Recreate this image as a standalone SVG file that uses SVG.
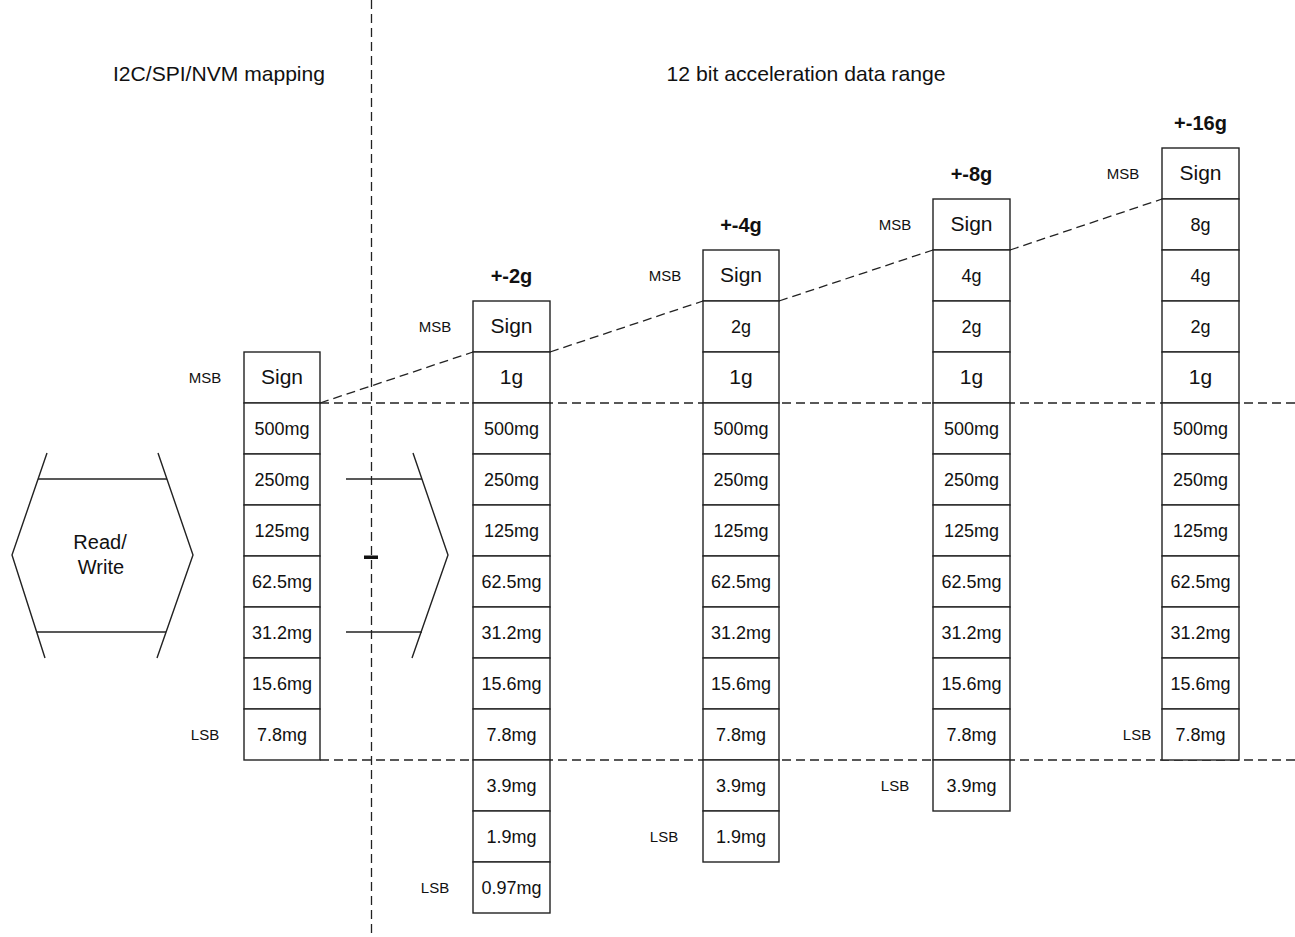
<svg xmlns="http://www.w3.org/2000/svg" width="1295" height="937" viewBox="0 0 1295 937">
<style>
text{font-family:"Liberation Sans",Arial,sans-serif;fill:#111;}
.c{fill:#fff;stroke:#222;stroke-width:1.4;}
.s{font-size:18px;text-anchor:middle;}
.b{font-size:21px;text-anchor:middle;}
.l{font-size:15px;text-anchor:middle;}
.t{font-size:20px;font-weight:bold;text-anchor:middle;}
.h{font-size:21px;text-anchor:middle;}
.d{fill:none;stroke:#222;stroke-width:1.3;stroke-dasharray:9 5;}
.ln{fill:none;stroke:#222;stroke-width:1.4;}
</style>
<g id="headers">
<text class="h" x="219" y="81" textLength="212" lengthAdjust="spacingAndGlyphs">I2C/SPI/NVM mapping</text>
<text class="h" x="806" y="81" textLength="279" lengthAdjust="spacingAndGlyphs">12 bit acceleration data range</text>
</g>
<g id="connectors">
<line class="d" x1="371.5" y1="0" x2="371.5" y2="937"/>
<line class="d" x1="320" y1="403" x2="1295" y2="403"/>
<line class="d" x1="320" y1="760" x2="1295" y2="760"/>
<line class="d" x1="320" y1="403" x2="473" y2="352"/>
<line class="d" x1="550" y1="352" x2="703" y2="301"/>
<line class="d" x1="779" y1="301" x2="933" y2="250"/>
<line class="d" x1="1010" y1="250" x2="1162" y2="199"/>
<rect x="364" y="555.5" width="14" height="3.5" fill="#111"/>
</g>
<g id="read-write">
<polyline class="ln" points="47,453 12,555 45,658"/>
<polyline class="ln" points="158,453 193,555 157,658"/>
<line class="ln" x1="38" y1="479" x2="167" y2="479"/>
<line class="ln" x1="37" y1="632" x2="166" y2="632"/>
<text class="h" x="100" y="549" style="font-size:20px">Read/</text>
<text class="h" x="101" y="574" style="font-size:20px">Write</text>
</g>
<g id="bus-right">
<polyline class="ln" points="413,453 448,555 412,658"/>
<line class="ln" x1="346" y1="479" x2="422" y2="479"/>
<line class="ln" x1="346" y1="632" x2="422" y2="632"/>
</g>
<g id="col-mapping">
<rect class="c" x="244" y="352" width="76" height="51"/>
<rect class="c" x="244" y="403" width="76" height="51"/>
<rect class="c" x="244" y="454" width="76" height="51"/>
<rect class="c" x="244" y="505" width="76" height="51"/>
<rect class="c" x="244" y="556" width="76" height="51"/>
<rect class="c" x="244" y="607" width="76" height="51"/>
<rect class="c" x="244" y="658" width="76" height="51"/>
<rect class="c" x="244" y="709" width="76" height="51"/>
<text class="b" x="282" y="384">Sign</text>
<text class="s" x="282" y="435">500mg</text>
<text class="s" x="282" y="486">250mg</text>
<text class="s" x="282" y="537">125mg</text>
<text class="s" x="282" y="588">62.5mg</text>
<text class="s" x="282" y="639">31.2mg</text>
<text class="s" x="282" y="690">15.6mg</text>
<text class="s" x="282" y="741">7.8mg</text>
<text class="l" x="205" y="383">MSB</text>
<text class="l" x="205" y="740">LSB</text>
</g>
<g id="col-2g">
<rect class="c" x="473" y="301" width="77" height="51"/>
<rect class="c" x="473" y="352" width="77" height="51"/>
<rect class="c" x="473" y="403" width="77" height="51"/>
<rect class="c" x="473" y="454" width="77" height="51"/>
<rect class="c" x="473" y="505" width="77" height="51"/>
<rect class="c" x="473" y="556" width="77" height="51"/>
<rect class="c" x="473" y="607" width="77" height="51"/>
<rect class="c" x="473" y="658" width="77" height="51"/>
<rect class="c" x="473" y="709" width="77" height="51"/>
<rect class="c" x="473" y="760" width="77" height="51"/>
<rect class="c" x="473" y="811" width="77" height="51"/>
<rect class="c" x="473" y="862" width="77" height="51"/>
<text class="t" x="511.5" y="283">+-2g</text>
<text class="b" x="511.5" y="333">Sign</text>
<text class="b" x="511.5" y="384">1g</text>
<text class="s" x="511.5" y="435">500mg</text>
<text class="s" x="511.5" y="486">250mg</text>
<text class="s" x="511.5" y="537">125mg</text>
<text class="s" x="511.5" y="588">62.5mg</text>
<text class="s" x="511.5" y="639">31.2mg</text>
<text class="s" x="511.5" y="690">15.6mg</text>
<text class="s" x="511.5" y="741">7.8mg</text>
<text class="s" x="511.5" y="792">3.9mg</text>
<text class="s" x="511.5" y="843">1.9mg</text>
<text class="s" x="511.5" y="894">0.97mg</text>
<text class="l" x="435" y="332">MSB</text>
<text class="l" x="435" y="893">LSB</text>
</g>
<g id="col-4g">
<rect class="c" x="703" y="250" width="76" height="51"/>
<rect class="c" x="703" y="301" width="76" height="51"/>
<rect class="c" x="703" y="352" width="76" height="51"/>
<rect class="c" x="703" y="403" width="76" height="51"/>
<rect class="c" x="703" y="454" width="76" height="51"/>
<rect class="c" x="703" y="505" width="76" height="51"/>
<rect class="c" x="703" y="556" width="76" height="51"/>
<rect class="c" x="703" y="607" width="76" height="51"/>
<rect class="c" x="703" y="658" width="76" height="51"/>
<rect class="c" x="703" y="709" width="76" height="51"/>
<rect class="c" x="703" y="760" width="76" height="51"/>
<rect class="c" x="703" y="811" width="76" height="51"/>
<text class="t" x="741" y="232">+-4g</text>
<text class="b" x="741" y="282">Sign</text>
<text class="s" x="741" y="333">2g</text>
<text class="b" x="741" y="384">1g</text>
<text class="s" x="741" y="435">500mg</text>
<text class="s" x="741" y="486">250mg</text>
<text class="s" x="741" y="537">125mg</text>
<text class="s" x="741" y="588">62.5mg</text>
<text class="s" x="741" y="639">31.2mg</text>
<text class="s" x="741" y="690">15.6mg</text>
<text class="s" x="741" y="741">7.8mg</text>
<text class="s" x="741" y="792">3.9mg</text>
<text class="s" x="741" y="843">1.9mg</text>
<text class="l" x="665" y="281">MSB</text>
<text class="l" x="664" y="842">LSB</text>
</g>
<g id="col-8g">
<rect class="c" x="933" y="199" width="77" height="51"/>
<rect class="c" x="933" y="250" width="77" height="51"/>
<rect class="c" x="933" y="301" width="77" height="51"/>
<rect class="c" x="933" y="352" width="77" height="51"/>
<rect class="c" x="933" y="403" width="77" height="51"/>
<rect class="c" x="933" y="454" width="77" height="51"/>
<rect class="c" x="933" y="505" width="77" height="51"/>
<rect class="c" x="933" y="556" width="77" height="51"/>
<rect class="c" x="933" y="607" width="77" height="51"/>
<rect class="c" x="933" y="658" width="77" height="51"/>
<rect class="c" x="933" y="709" width="77" height="51"/>
<rect class="c" x="933" y="760" width="77" height="51"/>
<text class="t" x="971.5" y="181">+-8g</text>
<text class="b" x="971.5" y="231">Sign</text>
<text class="s" x="971.5" y="282">4g</text>
<text class="s" x="971.5" y="333">2g</text>
<text class="b" x="971.5" y="384">1g</text>
<text class="s" x="971.5" y="435">500mg</text>
<text class="s" x="971.5" y="486">250mg</text>
<text class="s" x="971.5" y="537">125mg</text>
<text class="s" x="971.5" y="588">62.5mg</text>
<text class="s" x="971.5" y="639">31.2mg</text>
<text class="s" x="971.5" y="690">15.6mg</text>
<text class="s" x="971.5" y="741">7.8mg</text>
<text class="s" x="971.5" y="792">3.9mg</text>
<text class="l" x="895" y="230">MSB</text>
<text class="l" x="895" y="791">LSB</text>
</g>
<g id="col-16g">
<rect class="c" x="1162" y="148" width="77" height="51"/>
<rect class="c" x="1162" y="199" width="77" height="51"/>
<rect class="c" x="1162" y="250" width="77" height="51"/>
<rect class="c" x="1162" y="301" width="77" height="51"/>
<rect class="c" x="1162" y="352" width="77" height="51"/>
<rect class="c" x="1162" y="403" width="77" height="51"/>
<rect class="c" x="1162" y="454" width="77" height="51"/>
<rect class="c" x="1162" y="505" width="77" height="51"/>
<rect class="c" x="1162" y="556" width="77" height="51"/>
<rect class="c" x="1162" y="607" width="77" height="51"/>
<rect class="c" x="1162" y="658" width="77" height="51"/>
<rect class="c" x="1162" y="709" width="77" height="51"/>
<text class="t" x="1200.5" y="130">+-16g</text>
<text class="b" x="1200.5" y="180">Sign</text>
<text class="s" x="1200.5" y="231">8g</text>
<text class="s" x="1200.5" y="282">4g</text>
<text class="s" x="1200.5" y="333">2g</text>
<text class="b" x="1200.5" y="384">1g</text>
<text class="s" x="1200.5" y="435">500mg</text>
<text class="s" x="1200.5" y="486">250mg</text>
<text class="s" x="1200.5" y="537">125mg</text>
<text class="s" x="1200.5" y="588">62.5mg</text>
<text class="s" x="1200.5" y="639">31.2mg</text>
<text class="s" x="1200.5" y="690">15.6mg</text>
<text class="s" x="1200.5" y="741">7.8mg</text>
<text class="l" x="1123" y="179">MSB</text>
<text class="l" x="1137" y="740">LSB</text>
</g>
</svg>
